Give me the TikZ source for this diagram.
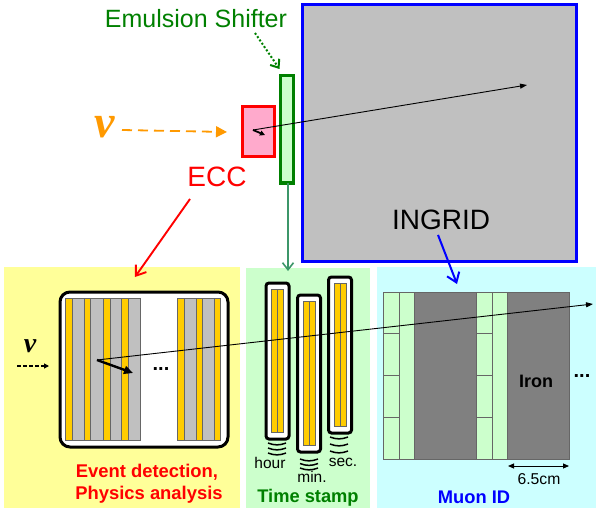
\documentclass[tikz,border=0pt]{standalone}
\usepackage{fontspec}
\setmainfont{Liberation Sans}
\newfontfamily\nufont{Liberation Serif}
\usetikzlibrary{arrows.meta,calc}
\definecolor{shiftc}{RGB}{0,128,0}
\definecolor{shiftf}{RGB}{204,255,204}
\definecolor{eccf}{RGB}{255,170,204}
\definecolor{nuc}{RGB}{255,153,0}
\definecolor{linkc}{RGB}{60,150,105}
\definecolor{goldc}{RGB}{255,204,0}
\definecolor{leadc}{RGB}{192,192,192}
\definecolor{ironc}{RGB}{128,128,128}
\definecolor{panely}{RGB}{255,255,153}
\definecolor{panelc}{RGB}{204,255,255}
\tikzset{
  panel/.style={inner sep=0pt, outer sep=0pt},
  label/.style={inner sep=0pt, outer sep=0pt, font=\fontsize{#1}{#1}\selectfont},
  boldlabel/.style={inner sep=0pt, outer sep=0pt, font=\fontsize{#1}{#1}\selectfont\bfseries},
  capsule/.style={draw=black, line width=3pt, fill=white, rounded corners=3pt},
  wave/.style={line width=1.5pt},
  ptrack/.style={black, line width=0.9pt, -{Triangle[length=7pt,width=5pt]}},
}
\begin{document}
\begin{tikzpicture}[x=1pt,y=-1pt]
  \useasboundingbox (0,0) rectangle (599,513);
  % detector overview
  \node[panel, draw=blue, line width=3pt, fill=leadc, minimum width=274pt, minimum height=256pt] (ingrid) at (439.5,133) {};
  \node[panel, draw=shiftc, line width=3pt, fill=shiftf, minimum width=13pt, minimum height=107pt] (shifter) at (286.5,129.5) {};
  \node[panel, draw=red, line width=3pt, fill=eccf, minimum width=32pt, minimum height=50pt] (ecc) at (258,132) {};
  \coordinate (vertex) at (253,130);
  \coordinate (trackend) at (527,85);
  \draw[ptrack] (vertex) -- (trackend);
  \draw[line width=1.8pt, -{Triangle[length=5pt,width=5pt]}] (vertex) -- ++(12,5);
  \node[label=25, shiftc] (shiftlabel) at (196,19) {Emulsion Shifter};
  \node[label=28, red] (ecclabel) at (217,177) {ECC};
  \node[label=28] (ingridlabel) at (441,220) {INGRID};
  \node[inner sep=0pt, nuc, font=\fontsize{46}{46}\nufont\bfseries\itshape] (nuin) at (105,127) {ν};
  \draw[nuc, line width=1.8pt, dash pattern=on 10pt off 6pt, -{Triangle[length=11pt,width=11pt]}] (122,130) -- (ecc.west -| 227,130);
  \draw[shiftc, line width=2pt, dash pattern=on 2pt off 2pt, -{Straight Barb[length=7pt,width=11pt]}] (255,33) -- ($(shifter.north)+(-7,-7)$);
  % three panels
  \node[panel, fill=panely, minimum width=236pt, minimum height=241pt] (eccpanel) at (122,387.5) {};
  \node[panel, fill=shiftf, minimum width=124pt, minimum height=240pt] (stamppanel) at (308,388) {};
  \node[panel, fill=panelc, minimum width=219pt, minimum height=241pt] (muonpanel) at (486.5,387.5) {};
  \draw[red, line width=1.9pt, -{Straight Barb[length=9pt,width=13pt]}] (190,199) -- ($(eccpanel.north)+(13,10)$);
  \draw[linkc, line width=1.6pt, -{Straight Barb[length=7pt,width=11pt]}] (shifter.south -| 288,186) -- ($(stamppanel.north)+(-20,3)$);
  \draw[blue, line width=2pt, -{Straight Barb[length=9pt,width=13pt]}] ($(ingridlabel.south)+(-3,5)$) -- ($(muonpanel.north)+(-29.5,17)$);
  % ECC stack
  \node[panel, draw=black, line width=3pt, fill=white, rounded corners=10pt, minimum width=168pt, minimum height=155pt] (eccbox) at (144,369.5) {};
  \foreach \xa/\xb in {65.5/72.5,84.5/90.5,103.5/110,121.5/128.5,177.5/184.5,196.5/202.5,214.5/220.5} {
    \draw[draw=black!60, line width=0.6pt, fill=goldc] (\xa,298) rectangle (\xb,440);
  }
  \foreach \xa/\xb in {72.5/84.5,90.5/103.5,110/121.5,128.5/140.5,184.5/196.5,202.5/214.5} {
    \draw[draw=black!60, line width=0.6pt, fill=leadc] (\xa,298) rectangle (\xb,440);
  }
  \node[boldlabel=20] (eccdots) at (161,369) {...};
  \node[inner sep=0pt, font=\fontsize{28}{28}\nufont\bfseries\itshape] (nusmall) at (30,346) {ν};
  \draw[line width=1.1pt, dash pattern=on 3.5pt off 2.5pt, -{Triangle[length=5pt,width=5pt]}] (17,366) -- (49,366);
  \coordinate (eccvertex) at (97,360);
  \draw[line width=2.4pt, -{Triangle[length=9pt,width=8pt]}] (eccvertex) -- (133,373);
  \node[boldlabel=18.4, red] (eventlabel) at (147,472) {Event detection,};
  \node[boldlabel=18.4, red] (physlabel) at (149,495) {Physics analysis};
  % time stamp sheets
  \foreach \name/\cx/\ya/\yb in {hour/277.5/283/439, min/309/295/452, sec/340/277/433} {
    \draw[capsule] (\cx-11.5,\ya) rectangle (\cx+11.5,\yb);
    \draw[draw=black!60, line width=0.6pt, fill=goldc] (\cx-6.2,\ya+6.5) rectangle (\cx+6.2,\yb-6.5);
    \draw[draw=black!60, line width=0.6pt] (\cx,\ya+6.5) -- (\cx,\yb-6.5);
  }
  \foreach \cx/\wy in {277/443,277/448,277/453,309/459,309/463.5,309/468,339/437,339/444,339/451} {
    \draw[wave] (\cx-9,\wy) .. controls (\cx-3,\wy+2.5) and (\cx+3,\wy+2.5) .. (\cx+9,\wy);
  }
  \node[label=15.5] (hourlabel) at (270,463) {hour};
  \node[label=15.5] (minlabel) at (312,477) {min.};
  \node[label=15.5] (seclabel) at (343,462) {sec.};
  \node[boldlabel=18.3, shiftc] (stamplabel) at (308,498) {Time stamp};
  % muon range detector
  \draw[draw=black!60, line width=0.8pt, fill=ironc] (414,292) rectangle (476,459);
  \draw[draw=black!60, line width=0.8pt, fill=ironc] (507,292) rectangle (569,459);
  \foreach \xa/\xb in {383/399,399/414,476/492,492/507} {
    \draw[draw=black!60, line width=0.8pt, fill=shiftf] (\xa,292) rectangle (\xb,459);
  }
  \foreach \xa/\xb in {383/399,476/492} {
    \foreach \yy in {333,375,417} { \draw[draw=black!60, line width=0.8pt] (\xa,\yy) -- (\xb,\yy); }
  }
  \coordinate (eccend) at (593,304);
  \draw[ptrack] (eccvertex) -- (eccend);
  \node[boldlabel=18] (ironlabel) at (536,381) {Iron};
  \node[boldlabel=20] (muondots) at (582,376) {...};
  \coordinate (widtha) at (508,466);
  \coordinate (widthb) at (569,466);
  \draw[line width=0.9pt, {Triangle[length=6pt,width=5pt]}-{Triangle[length=6pt,width=5pt]}] (widtha) -- (widthb);
  \node[label=15.7] (widthlabel) at (539,479) {6.5cm};
  \node[boldlabel=18.3, blue] (muonlabel) at (474,497) {Muon ID};
\end{tikzpicture}
\end{document}
